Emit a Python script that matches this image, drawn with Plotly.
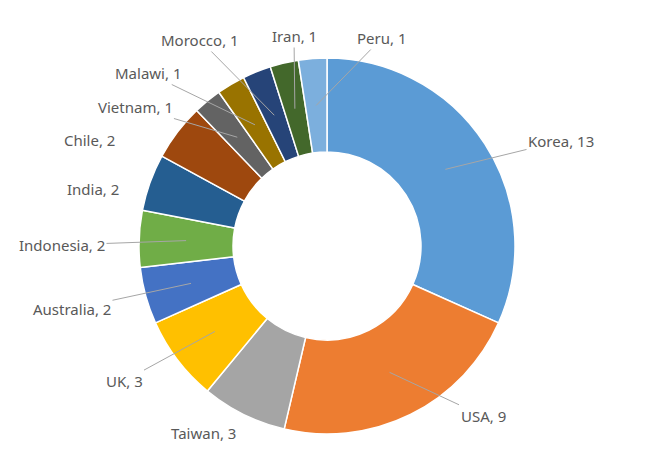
import numpy as np
import plotly.graph_objects as go

# Daten
countries = ["Korea", "USA", "Taiwan", "UK", "Australia", "Indonesia", "India",
             "Chile", "Vietnam", "Malawi", "Morocco", "Iran", "Peru"]
counts = [13, 9, 3, 3, 2, 2, 2, 2, 1, 1, 1, 1, 1]
colors = ["#5B9BD5", "#ED7D31", "#A5A5A5", "#FFC000", "#4472C4", "#70AD47", "#255E91",
          "#9E480E", "#636363", "#997300", "#264478", "#43682B", "#7CAFDD"]

# Label-Positionen (Pixel im Bild) und ob eine Führungslinie gezeichnet wird
label_pos = [(561, 141), (483, 416), (203, 433), (124, 381), (72, 309), (62, 245),
             (93, 189), (90, 140), (135, 107), (148, 73), (200, 40), (294, 36), (382, 38)]
has_line = [True, True, False, True, True, True, False, False, True, True, True, True, True]

W, H = 653, 469
off = 8  # body margin der HTML-Seite
cx, cy, R = 327 - off, 246 - off, 188
hole = 0.5

fig = go.Figure()
fig.add_trace(go.Pie(
    labels=countries,
    values=counts,
    hole=hole,
    sort=False,
    direction="clockwise",
    rotation=0,
    marker=dict(colors=colors, line=dict(color="white", width=1.5)),
    textinfo="none",
    hoverinfo="label+value",
    showlegend=False,
    domain=dict(x=[(cx - R) / W, (cx + R) / W], y=[(H - cy - R) / H, (H - cy + R) / H]),
))

# Beschriftungen mit Führungslinien
total = sum(counts)
cum = np.cumsum([0] + counts[:-1])
r_mid = R * (1 + hole) / 2
font = dict(family="Noto Sans", size=15, color="#595959")
for i, name in enumerate(countries):
    frac = (cum[i] + counts[i] / 2) / total
    theta = np.deg2rad(90 - 360 * frac)
    px = cx + r_mid * np.cos(theta)
    py = cy - r_mid * np.sin(theta)
    tx, ty = label_pos[i][0] - off, label_pos[i][1] - off
    text = f"{name}, {counts[i]}"
    if has_line[i]:
        fig.add_annotation(
            x=px / W, y=1 - py / H, xref="paper", yref="paper",
            ax=tx - px, ay=ty - py,
            text=text, showarrow=True, arrowhead=0, arrowwidth=1,
            arrowcolor="#A6A6A6", font=font,
        )
    else:
        fig.add_annotation(
            x=tx / W, y=1 - ty / H, xref="paper", yref="paper",
            xanchor="center", yanchor="middle",
            text=text, showarrow=False, font=font,
        )

fig.update_layout(
    width=W, height=H,
    margin=dict(l=0, r=0, t=0, b=0),
    paper_bgcolor="white",
    plot_bgcolor="white",
)

fig.write_html("out.html")
